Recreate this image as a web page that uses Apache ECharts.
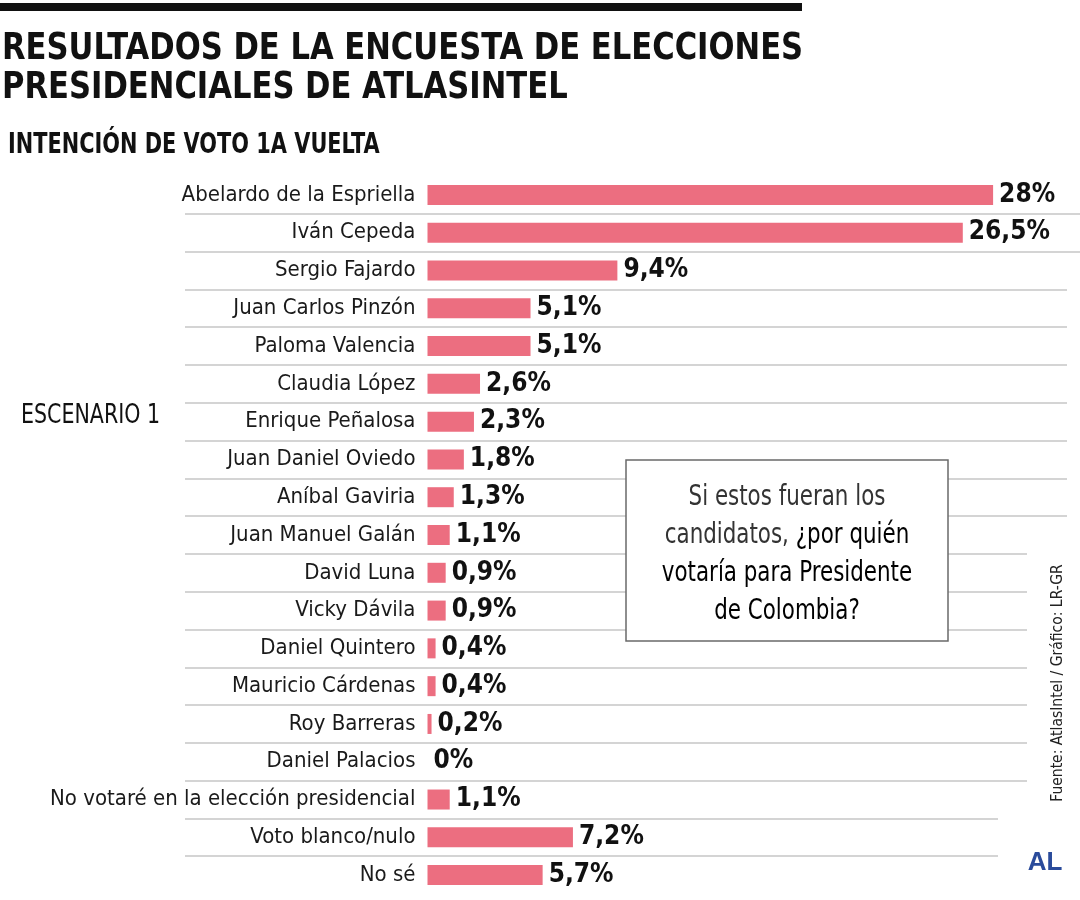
<!DOCTYPE html>
<html>
<head>
<meta charset="utf-8">
<title>Encuesta AtlasIntel</title>
<script src="https://cdn.jsdelivr.net/npm/echarts@6/dist/echarts.min.js"></script>
<style>
  html, body { margin: 0; padding: 0; background: #fff; }
  #chart { width: 1080px; height: 900px; }
</style>
</head>
<body>
<div id="chart"></div>
<script>
// datos
const candidates = [
  'Abelardo de la Espriella',
  'Iván Cepeda',
  'Sergio Fajardo',
  'Juan Carlos Pinzón',
  'Paloma Valencia',
  'Claudia López',
  'Enrique Peñalosa',
  'Juan Daniel Oviedo',
  'Aníbal Gaviria',
  'Juan Manuel Galán',
  'David Luna',
  'Vicky Dávila',
  'Daniel Quintero',
  'Mauricio Cárdenas',
  'Roy Barreras',
  'Daniel Palacios',
  'No votaré en la elección presidencial',
  'Voto blanco/nulo',
  'No sé'
];
const votes = [28, 26.5, 9.4, 5.1, 5.1, 2.6, 2.3, 1.8, 1.3, 1.1, 0.9, 0.9, 0.4, 0.4, 0.2, 0, 1.1, 7.2, 5.7];

const FONT = "'DejaVu Sans Condensed', 'Liberation Sans Narrow', sans-serif";
const PINK = '#EC6E80';
const LINE = '#c6c6c6';

const gridTop = 176;
const rowH = 718 / candidates.length;

// separadores: cada grid auxiliar dibuja n lineas entre filas
// [left, right, n]
const sepGrids = [
  [185, 998, 18],
  [998, 1027, 16],
  [1027, 1067, 9],
  [1067, 1080, 2]
];

const chart = echarts.init(document.getElementById('chart'));

const grids = [{ left: 427.5, width: 606, top: gridTop, height: 718, outerBoundsMode: 'none', containLabel: false }];
const xAxes = [{ type: 'value', min: 0, max: 30, show: false, gridIndex: 0 }];
const yAxes = [{
  type: 'category',
  data: candidates,
  inverse: true,
  gridIndex: 0,
  axisLine: { show: false },
  axisTick: { show: false },
  splitLine: { show: false },
  axisLabel: {
    interval: 0,
    margin: 12,
    fontFamily: FONT,
    fontSize: 22,
    color: '#1a1a1a'
  }
}];
const series = [{
  type: 'bar',
  data: votes,
  xAxisIndex: 0,
  yAxisIndex: 0,
  barWidth: 20,
  itemStyle: { color: PINK },
  label: {
    show: true,
    position: 'right',
    distance: 6,
    fontFamily: FONT,
    fontSize: 26,
    fontWeight: 'bold',
    color: '#111',
    formatter: p => String(p.value).replace('.', ',') + '%'
  },
  z: 5
}];

sepGrids.forEach((g, i) => {
  const idx = i + 1;
  grids.push({ left: g[0], width: g[1] - g[0], top: gridTop, height: g[2] * rowH, outerBoundsMode: 'none', containLabel: false });
  xAxes.push({ type: 'value', show: false, gridIndex: idx });
  yAxes.push({
    type: 'value',
    gridIndex: idx,
    inverse: true,
    min: 0,
    max: g[2],
    interval: 1,
    axisLine: { show: false },
    axisTick: { show: false },
    axisLabel: { show: false },
    splitLine: {
      show: true,
      showMinLine: false,
      showMaxLine: true,
      lineStyle: { color: LINE, width: 1.5 }
    }
  });
});

chart.setOption({
  animation: false,
  backgroundColor: '#fff',
  grid: grids,
  xAxis: xAxes,
  yAxis: yAxes,
  series: series,
  graphic: [
    { type: 'rect', shape: { x: 0, y: 3, width: 802, height: 8 }, style: { fill: '#111' } },
    {
      type: 'text', x: 2, y: 49, scaleX: 0.92,
      style: { text: 'RESULTADOS DE LA ENCUESTA DE ELECCIONES', fontFamily: FONT, fontSize: 37, fontWeight: 'bold', fill: '#111', textVerticalAlign: 'middle' }
    },
    {
      type: 'text', x: 2, y: 88, scaleX: 0.92,
      style: { text: 'PRESIDENCIALES DE ATLASINTEL', fontFamily: FONT, fontSize: 37, fontWeight: 'bold', fill: '#111', textVerticalAlign: 'middle' }
    },
    {
      type: 'text', x: 8, y: 145, scaleX: 0.8,
      style: { text: 'INTENCIÓN DE VOTO 1A VUELTA', fontFamily: FONT, fontSize: 29, fontWeight: 'bold', fill: '#111', textVerticalAlign: 'middle' }
    },
    {
      type: 'text', x: 21, y: 416, scaleX: 0.88,
      style: { text: 'ESCENARIO 1', fontFamily: FONT, fontSize: 26, fill: '#111', textVerticalAlign: 'middle' }
    },
    {
      type: 'rect', z: 100,
      shape: { x: 626, y: 460, width: 322, height: 181 },
      style: { fill: '#fff', stroke: '#6a6a6a', lineWidth: 1.5 }
    },
    {
      type: 'text', z: 101, x: 787, y: 555, scaleX: 0.85,
      style: {
        text: '{l|Si estos fueran los}\n{l|candidatos, }{m|¿por quién}\n{m|votaría para Presidente}\n{m|de Colombia?}',
        textAlign: 'center',
        textVerticalAlign: 'middle',
        rich: {
          l: { fontFamily: FONT, fontSize: 28, lineHeight: 38, fill: '#333', color: '#333' },
          m: { fontFamily: FONT, fontSize: 28, lineHeight: 38, fill: '#000', color: '#000' }
        }
      }
    },
    {
      type: 'text', x: 1058, y: 683, rotation: Math.PI / 2,
      style: { text: 'Fuente: AtlasIntel / Gráfico: LR-GR', fontFamily: FONT, fontSize: 15.5, fill: '#222', textAlign: 'center', textVerticalAlign: 'middle' }
    },
    {
      type: 'text', x: 1045, y: 863,
      style: { text: 'AL', fontFamily: "'Liberation Sans', Arial, sans-serif", fontSize: 26, fontWeight: 900, fill: '#2A4B9B', textAlign: 'center', textVerticalAlign: 'middle' }
    }
  ]
});
</script>
</body>
</html>
